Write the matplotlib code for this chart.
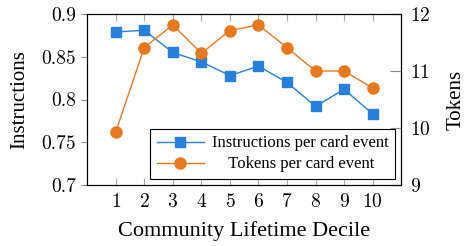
import matplotlib.pyplot as plt
import numpy as np

### DATA

deciles = [1, 2, 3, 4, 5, 6, 7, 8, 9, 10]
instructions = [0.879, 0.881, 0.855, 0.844, 0.828, 0.839, 0.820, 0.792, 0.812, 0.783]
tokens = [9.93, 11.41, 11.81, 11.31, 11.71, 11.81, 11.41, 11.0, 11.0, 10.70]

blue = '#2680dc'
orange = '#e8781e'

plt.rcParams['mathtext.fontset'] = 'cm'
plt.rcParams['axes.formatter.use_mathtext'] = True
label_font = 'Liberation Serif'
tick_font = 'cmr10'

fig, ax = plt.subplots(figsize=(4.66, 2.46), dpi=100)
fig.subplots_adjust(left=0.187, right=0.861, top=0.943, bottom=0.248)
ax2 = ax.twinx()

l1, = ax.plot(deciles, instructions, color=blue, marker='s', markersize=7,
              linewidth=1, label='Instructions per card event')
l2, = ax2.plot(deciles, tokens, color=orange, marker='o', markersize=8,
               linewidth=1, label='Tokens per card event')

ax.set_xlim(0, 11)
ax.set_ylim(0.7, 0.9)
ax2.set_ylim(9, 12)
ax.set_xticks(deciles)
ax.set_yticks([0.7, 0.75, 0.8, 0.85, 0.9])
ax.set_yticklabels(['0.7', '0.75', '0.8', '0.85', '0.9'])
ax2.set_yticks([9, 10, 11, 12])

for a in (ax, ax2):
    for lab in a.get_xticklabels() + a.get_yticklabels():
        lab.set_fontfamily(tick_font)
        lab.set_fontsize(14)

ax.tick_params(axis='x', direction='in', top=True, color='#aaaaaa', length=5, pad=6)
ax.tick_params(axis='y', direction='out', color='#888888', length=4, pad=4)
ax2.tick_params(axis='y', direction='in', color='#888888', length=8, pad=6)

ax.set_xlabel('Community Lifetime Decile', fontfamily=label_font, fontsize=16, labelpad=7)
ax.set_ylabel('Instructions', fontfamily=label_font, fontsize=15, labelpad=9)
ax2.set_ylabel('Tokens', fontfamily=label_font, fontsize=15, labelpad=12)

# legend text is centred in the reference, pad the shorter label
l2.set_label('    Tokens per card event')
leg = ax.legend(handles=[l1, l2], loc='lower right',
                prop={'family': label_font, 'size': 12},
                fancybox=False, edgecolor='black', framealpha=1,
                borderaxespad=0.35, handlelength=2.8, handletextpad=0.5,
                labelspacing=0.3, borderpad=0.4)
leg.get_frame().set_linewidth(0.8)

fig.savefig('out.png', dpi=100)
